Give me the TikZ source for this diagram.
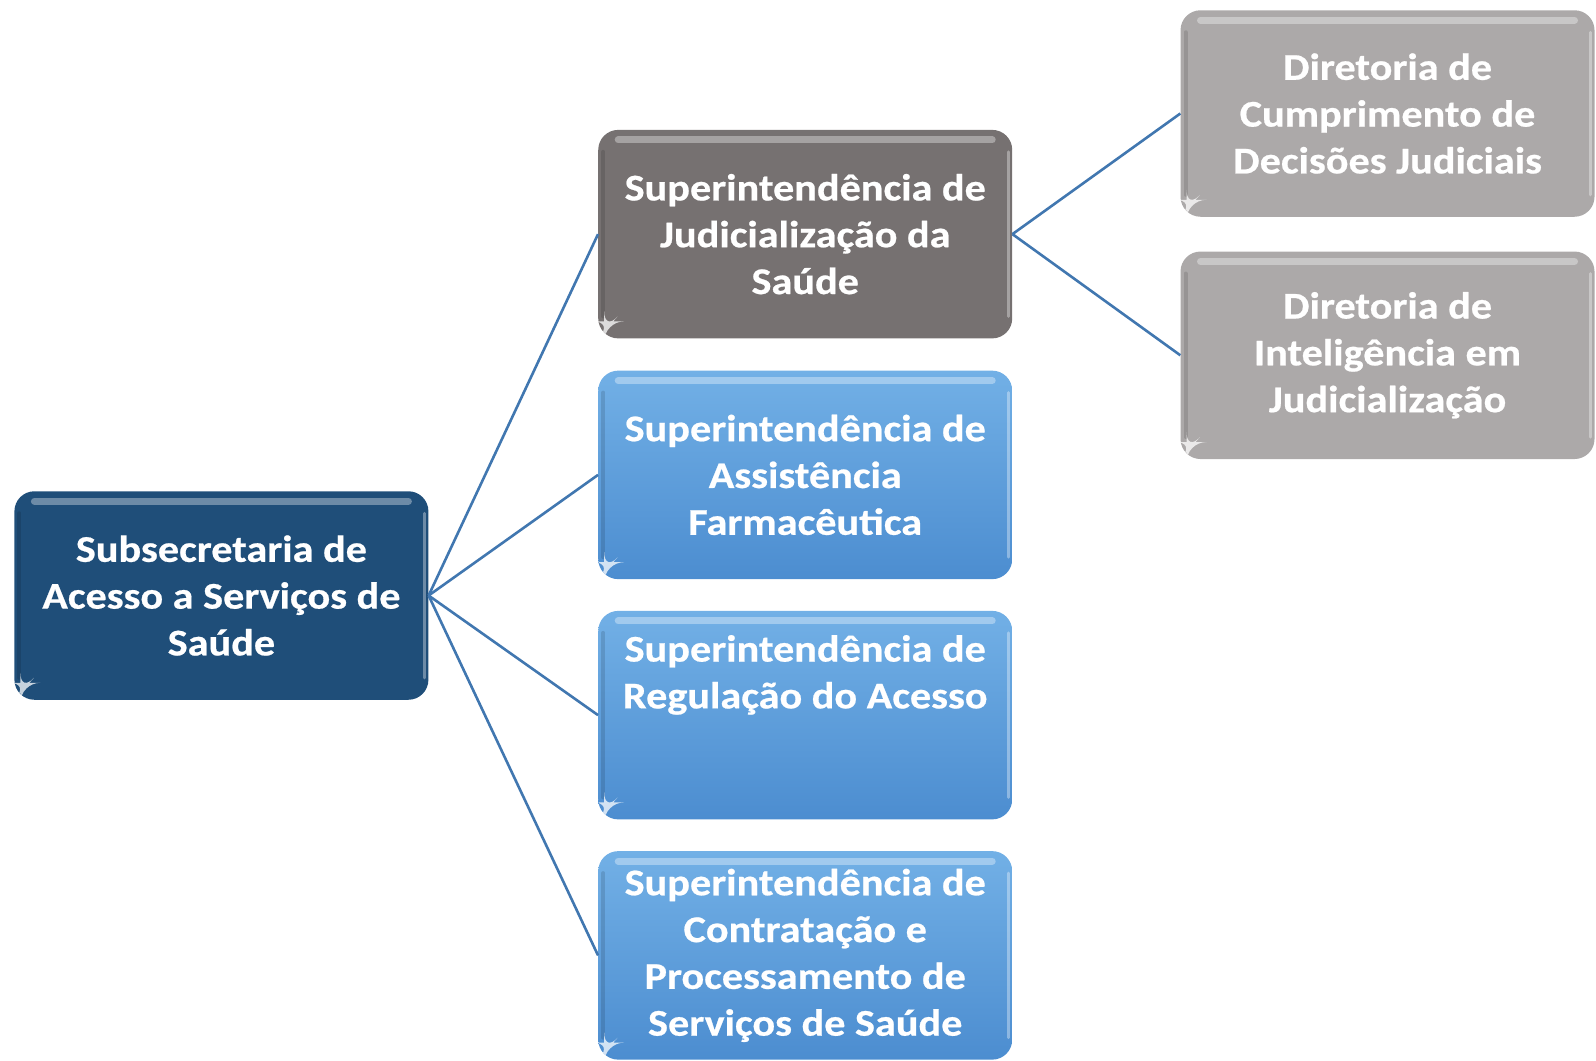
\documentclass[tikz,border=0pt]{standalone}
\usepackage{fontspec}
\setmainfont{Carlito}[FakeStretch=1.12, BoldFeatures={FakeBold=0.6}]
\definecolor{rootblue}{HTML}{1F4E79}
\definecolor{darkgr}{HTML}{767171}
\definecolor{lightgr}{HTML}{ACA9A9}
\definecolor{bluetop}{HTML}{72B0E6}
\definecolor{bluebot}{HTML}{4C8DD0}
\definecolor{linkblue}{HTML}{4177B0}
\tikzset{
  orgbox/.style={rectangle, rounded corners=20pt, minimum width=414pt, minimum height=208.5pt,
    inner sep=0pt, text=white, align=center,
    font=\bfseries\fontsize{37.7}{46.8}\selectfont,
    path picture={
      \draw[white,opacity=.35,line width=7pt,line cap=round]
        ([xshift=20pt,yshift=-10pt]path picture bounding box.north west) --
        ([xshift=-20pt,yshift=-10pt]path picture bounding box.north east);
      \draw[white,opacity=.35,line width=3pt,line cap=round]
        ([xshift=-4pt,yshift=-22pt]path picture bounding box.north east) --
        ([xshift=-4pt,yshift=22pt]path picture bounding box.south east);
      \draw[black,opacity=.12,line width=4pt,line cap=round]
        ([xshift=5pt,yshift=-22pt]path picture bounding box.north west) --
        ([xshift=5pt,yshift=22pt]path picture bounding box.south west);
      \fill[white,opacity=.75]
        ([xshift=6pt,yshift=17pt]path picture bounding box.south west) --
        ([xshift=15pt,yshift=17pt]path picture bounding box.south west) --
        ([xshift=6pt,yshift=7pt]path picture bounding box.south west) -- cycle;
    }},
  rootbox/.style={orgbox, fill=rootblue},
  judbox/.style={orgbox, fill=darkgr},
  dirbox/.style={orgbox, fill=lightgr},
  supbox/.style={orgbox, top color=bluetop, bottom color=bluebot},
  link/.style={draw=linkblue, line width=2.6pt}
}
\begin{document}
\begin{tikzpicture}[x=1.018pt,y=-1.018pt]
\node[rootbox] (root) at (217.5,585) {Subsecretaria de\\Acesso a Serviços de\\Saúde};
\node[judbox] (jud) at (791,230) {Superintendência de\\Judicialização da\\Saúde};
\node[supbox] (farm) at (791,466.5) {Superintendência de\\Assistência\\Farmacêutica};
\node[supbox] (reg) at (791,702.5) {Superintendência de\\Regulação do Acesso\\[40pt]};
\node[supbox] (cont) at (791,938.5) {Superintendência de\\Contratação e\\Processamento de\\Serviços de Saúde};
\node[dirbox, minimum height=206.5pt] (dcum) at (1363,111.5) {Diretoria de\\Cumprimento de\\Decisões Judiciais};
\node[dirbox, minimum height=207.5pt] (dint) at (1363,349) {Diretoria de\\Inteligência em\\Judicialização};
\draw[link] (root.east) -- (jud.west);
\draw[link] (root.east) -- (farm.west);
\draw[link] (root.east) -- (reg.west);
\draw[link] (root.east) -- (cont.west);
\draw[link] (jud.east) -- (dcum.west);
\draw[link] (jud.east) -- (dint.west);
\pgfresetboundingbox
\useasboundingbox (0,0) rectangle (1567.8,1041.3);
\end{tikzpicture}
\end{document}
